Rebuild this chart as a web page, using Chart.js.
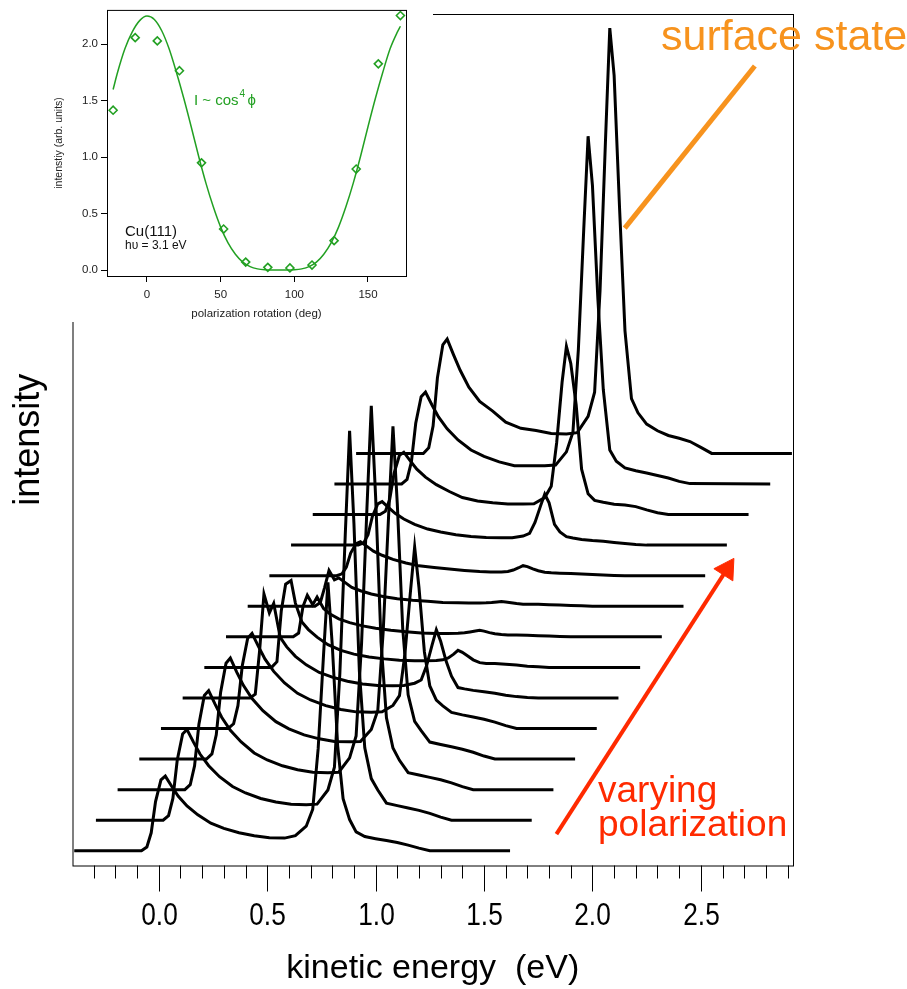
<!DOCTYPE html>
<html>
<head>
<meta charset="utf-8">
<title>Cu(111) surface state vs polarization</title>
<script src="https://cdn.jsdelivr.net/npm/chart.js"></script>
<style>
  body { margin:0; background:#fff; }
  #wrap { position:relative; width:907px; height:989px; }
  #main, #inset { position:absolute; left:0; top:0; }
  #inset { background:#fff; }
</style>
</head>
<body>
<div id="wrap">
  <canvas id="main" width="907" height="989"></canvas>
  <canvas id="inset" width="433" height="322"></canvas>
</div>
<script>
// relative kinetic energy of each spectrum (eV), before the waterfall shift
const relEnergy = [-0.39, -0.08, -0.055, -0.035, -0.015, 0.01, 0.03, 0.06, 0.09, 0.13,
  0.18, 0.24, 0.3, 0.37, 0.44, 0.51, 0.58, 0.63, 0.68, 0.71,
  0.735, 0.76, 0.78, 0.80, 0.825, 0.85, 0.88, 0.91, 0.95, 1.0,
  1.05, 1.1, 1.15, 1.2, 1.25, 1.62];

// intensity above each spectrum's own baseline (arb. units), bottom spectrum first
const s0 = [0, 0, 0.02, 0.095, 0.26, 0.375, 0.395, 0.34, 0.288, 0.237, 0.19, 0.146, 0.118, 0.095, 0.079, 0.069, 0.067, 0.08, 0.13, 0.22, 0.54, 1.04, 1.42, 1.09, 0.555, 0.276, 0.165, 0.1, 0.075, 0.064, 0.054, 0.044, 0.03, 0.014, 0, 0];
const s1 = [0, 0, 0.024, 0.115, 0.317, 0.456, 0.48, 0.413, 0.35, 0.288, 0.23, 0.178, 0.144, 0.115, 0.096, 0.084, 0.082, 0.085, 0.16, 0.28, 0.775, 1.51, 2.06, 1.57, 0.79, 0.383, 0.22, 0.16, 0.09, 0.077, 0.065, 0.052, 0.036, 0.016, 0, 0];
const s2 = [0, 0, 0.026, 0.126, 0.346, 0.498, 0.524, 0.451, 0.383, 0.314, 0.252, 0.194, 0.157, 0.126, 0.105, 0.092, 0.089, 0.092, 0.168, 0.284, 0.77, 1.49, 2.03, 1.55, 0.78, 0.38, 0.22, 0.155, 0.09, 0.077, 0.065, 0.052, 0.036, 0.016, 0, 0];
const s3 = [0, 0, 0.027, 0.128, 0.352, 0.507, 0.534, 0.459, 0.39, 0.32, 0.256, 0.198, 0.16, 0.128, 0.107, 0.093, 0.091, 0.093, 0.157, 0.257, 0.675, 1.29, 1.76, 1.35, 0.69, 0.34, 0.2, 0.15, 0.09, 0.077, 0.065, 0.052, 0.036, 0.016, 0, 0];
const s4 = [0, 0, 0.025, 0.121, 0.332, 0.478, 0.503, 0.433, 0.367, 0.302, 0.241, 0.186, 0.151, 0.121, 0.101, 0.088, 0.086, 0.088, 0.122, 0.174, 0.393, 0.716, 0.96, 0.746, 0.405, 0.225, 0.15, 0.12, 0.085, 0.072, 0.061, 0.049, 0.034, 0.015, 0, 0];
const s5 = [0, 0, 0.02, 0.25, 0.55, 0.45, 0.5, 0.32, 0.27, 0.22, 0.175, 0.135, 0.11, 0.088, 0.074, 0.066, 0.064, 0.066, 0.078, 0.095, 0.17, 0.278, 0.36, 0.3, 0.195, 0.115, 0.055, 0.048, 0.04, 0.033, 0.025, 0.014, 0.007, 0.002, 0, 0];
const s6 = [0, 0, 0.03, 0.3, 0.44, 0.46, 0.34, 0.24, 0.2, 0.16, 0.12, 0.09, 0.07, 0.055, 0.045, 0.038, 0.035, 0.035, 0.036, 0.04, 0.05, 0.07, 0.09, 0.08, 0.06, 0.04, 0.025, 0.02, 0.02, 0.016, 0.012, 0.006, 0.003, 0, 0, 0];
const s7 = [0, 0, 0.02, 0.16, 0.22, 0.17, 0.21, 0.15, 0.12, 0.095, 0.075, 0.058, 0.045, 0.035, 0.027, 0.02, 0.018, 0.018, 0.019, 0.021, 0.026, 0.031, 0.035, 0.03, 0.022, 0.016, 0.012, 0.01, 0.01, 0.008, 0.006, 0.004, 0.002, 0, 0, 0];
const s8 = [0, 0, 0.02, 0.1, 0.19, 0.14, 0.15, 0.125, 0.1, 0.082, 0.065, 0.05, 0.04, 0.032, 0.026, 0.02, 0.018, 0.017, 0.017, 0.018, 0.02, 0.023, 0.025, 0.022, 0.018, 0.014, 0.011, 0.01, 0.01, 0.008, 0.006, 0.004, 0.002, 0, 0, 0];
const s9 = [0, 0, 0.01, 0.045, 0.12, 0.17, 0.18, 0.155, 0.13, 0.108, 0.086, 0.067, 0.052, 0.043, 0.035, 0.028, 0.022, 0.02, 0.02, 0.022, 0.03, 0.042, 0.053, 0.048, 0.036, 0.026, 0.018, 0.015, 0.013, 0.011, 0.009, 0.006, 0.003, 0.001, 0, 0];
const s10 = [0, 0, 0.012, 0.055, 0.152, 0.218, 0.23, 0.198, 0.168, 0.138, 0.11, 0.085, 0.069, 0.055, 0.046, 0.04, 0.039, 0.039, 0.048, 0.062, 0.12, 0.205, 0.27, 0.224, 0.11, 0.07, 0.045, 0.038, 0.03, 0.024, 0.02, 0.014, 0.008, 0.003, 0, 0];
const s11 = [0, 0, 0.017, 0.08, 0.218, 0.314, 0.33, 0.284, 0.24, 0.198, 0.158, 0.122, 0.09, 0.072, 0.062, 0.056, 0.056, 0.057, 0.09, 0.15, 0.38, 0.7, 0.89, 0.8, 0.58, 0.24, 0.11, 0.075, 0.065, 0.055, 0.05, 0.042, 0.025, 0.01, 0, 0];
const s12 = [0, 0, 0.024, 0.117, 0.321, 0.462, 0.486, 0.418, 0.355, 0.292, 0.233, 0.18, 0.146, 0.117, 0.097, 0.096, 0.096, 0.1, 0.17, 0.274, 0.71, 1.35, 1.84, 1.58, 0.98, 0.5, 0.18, 0.12, 0.085, 0.07, 0.058, 0.045, 0.032, 0.014, 0.002, 0];
const s13 = [0, 0, 0.03, 0.145, 0.4, 0.575, 0.605, 0.52, 0.44, 0.35, 0.275, 0.224, 0.165, 0.133, 0.121, 0.106, 0.103, 0.11, 0.196, 0.324, 0.86, 1.65, 2.25, 2.0, 1.3, 0.65, 0.29, 0.215, 0.155, 0.12, 0.095, 0.08, 0.063, 0.032, 0, 0];
const spectra = [s0, s1, s2, s3, s4, s5, s6, s7, s8, s9, s10, s11, s12, s13];

// waterfall shift between neighbouring spectra
const xStep = 0.1;     // eV
const yStep = 0.1617;  // arb. units

// inset: surface state intensity vs polarization rotation
const rotationDeg = [-23, -8, 7, 22, 37, 52, 67, 82, 97, 112, 127, 142, 157, 172];
const ssIntensity = [1.416, 2.059, 2.03, 1.766, 0.95, 0.363, 0.07, 0.024, 0.018, 0.044, 0.26, 0.895, 1.827, 2.255];
const fitDeg = [-23, -20, -15, -10, -5, 0, 5, 10, 15, 20, 25, 30, 35, 40, 45, 50, 55, 60, 65, 70, 75, 80, 85, 90,
  95, 100, 105, 110, 115, 120, 125, 130, 135, 140, 145, 150, 155, 160, 165, 170, 172];
const fitValue = [1.60, 1.75, 1.96, 2.11, 2.21, 2.25, 2.22, 2.12, 1.96, 1.75, 1.52, 1.27, 1.01, 0.77, 0.56, 0.38, 0.24, 0.14, 0.07, 0.03, 0.01, 0.002, 0, 0,
  0, 0.002, 0.01, 0.03, 0.07, 0.14, 0.24, 0.38, 0.56, 0.77, 1.01, 1.27, 1.52, 1.75, 1.96, 2.11, 2.16];

// annotation marks (data coordinates of the main plot)
const surfaceLineX = [2.149, 2.749];
const surfaceLineY = [3.294, 4.152];
const arrowX = [1.834, 2.62];
const arrowY = [0.088, 1.489];

const sans = "'Liberation Sans', Arial, sans-serif";

const datasets = spectra.map((s, i) => ({
  data: relEnergy.map((e, k) => ({ x: e + i * xStep, y: s[k] + i * yStep })),
  borderColor: '#000', borderWidth: 3, pointRadius: 0, tension: 0, fill: false
}));
datasets.push({
  data: surfaceLineX.map((x, k) => ({ x, y: surfaceLineY[k] })),
  borderColor: '#f7931e', borderWidth: 5, pointRadius: 0, borderCapStyle: 'butt'
});
datasets.push({
  data: arrowX.map((x, k) => ({ x, y: arrowY[k] })),
  borderColor: '#ff2a00', borderWidth: 4, borderCapStyle: 'butt',
  pointRadius: [0, 13], pointStyle: 'triangle', pointRotation: 32.7,
  pointBackgroundColor: '#ff2a00', pointBorderColor: '#ff2a00', pointBorderWidth: 1
});

const isMajor = v => Math.abs(v * 2 - Math.round(v * 2)) < 1e-6;

const mainDecor = {
  id: 'mainDecor',
  afterDraw(chart) {
    const { ctx, chartArea: a, scales: { x } } = chart;
    ctx.save();
    ctx.strokeStyle = '#000';
    ctx.lineWidth = 1;
    ctx.strokeRect(a.left + 0.5, a.top + 0.5, a.right - a.left, a.bottom - a.top);
    ctx.fillStyle = '#000';
    ctx.font = "32px " + sans;
    ctx.textAlign = 'center';
    ctx.textBaseline = 'alphabetic';
    x.ticks.forEach(t => {
      const px = Math.round(x.getPixelForValue(t.value)) + 0.5;
      const major = isMajor(t.value);
      ctx.beginPath();
      ctx.moveTo(px, a.bottom);
      ctx.lineTo(px, a.bottom + (major ? 26 : 13));
      ctx.stroke();
      if (major) {
        // narrow face like the original tick labels
        ctx.save();
        ctx.translate(px, 925);
        ctx.scale(0.82, 1);
        ctx.fillText(t.value.toFixed(1), 0, 0);
        ctx.restore();
      }
    });
    ctx.textAlign = 'left';
    ctx.fillStyle = '#f7931e';
    ctx.font = "43px " + sans;
    ctx.fillText('surface state', 661, 50);
    ctx.fillStyle = '#ff2a00';
    ctx.font = "37px " + sans;
    ctx.fillText('varying', 598, 802);
    ctx.fillText('polarization', 598, 836);
    ctx.restore();
  }
};

new Chart(document.getElementById('main'), {
  type: 'line',
  data: { datasets },
  options: {
    responsive: false, animation: false,
    layout: { padding: { left: 0, top: 14, right: 114, bottom: 0 } },
    plugins: { legend: { display: false }, tooltip: { enabled: false } },
    scales: {
      x: {
        type: 'linear', min: -0.398, max: 2.925,
        grid: { display: false }, border: { display: false },
        ticks: { display: false, stepSize: 0.1, autoSkip: false, includeBounds: false },
        title: { display: true, text: 'kinetic energy  (eV)', color: '#000',
                 font: { family: sans, size: 34 }, padding: { top: 0, bottom: 0 } },
        afterFit: s => { s.height = 989 - 865.5; }
      },
      y: {
        type: 'linear', min: -0.078, max: 4.427,
        grid: { display: false }, border: { display: false },
        ticks: { display: false },
        title: { display: true, text: 'intensity', color: '#000',
                 font: { family: sans, size: 36 }, padding: { top: 7, bottom: 0 } },
        afterFit: s => { s.width = 72.5; }
      }
    }
  },
  plugins: [mainDecor]
});

const green = '#22a022';
const insetDecor = {
  id: 'insetDecor',
  beforeDraw(chart) {
    const { ctx } = chart;
    ctx.save();
    ctx.fillStyle = '#fff';
    ctx.fillRect(0, 0, chart.width, chart.height);
    ctx.restore();
  },
  afterDraw(chart) {
    const { ctx, chartArea: a } = chart;
    ctx.save();
    ctx.strokeStyle = '#000';
    ctx.lineWidth = 1;
    ctx.strokeRect(a.left + 0.5, a.top + 0.5, a.right - a.left, a.bottom - a.top);
    ctx.textAlign = 'left';
    ctx.textBaseline = 'alphabetic';
    ctx.fillStyle = green;
    ctx.font = "15px " + sans;
    ctx.fillText('I ~ cos', 194, 105);
    const w = ctx.measureText('I ~ cos').width;
    ctx.font = "10px " + sans;
    ctx.fillText('4', 194 + w + 1, 97);
    ctx.font = "15px " + sans;
    ctx.fillText('\u03d5', 194 + w + 9, 105);
    ctx.fillStyle = '#111';
    ctx.font = "15px " + sans;
    ctx.fillText('Cu(111)', 125, 236);
    ctx.font = "12px " + sans;
    ctx.fillText('h\u03c5 = 3.1 eV', 125, 249);
    ctx.restore();
  }
};

new Chart(document.getElementById('inset'), {
  type: 'line',
  data: {
    datasets: [
      { data: fitDeg.map((x, k) => ({ x, y: fitValue[k] })), borderColor: green, borderWidth: 1.5,
        pointRadius: 0, cubicInterpolationMode: 'monotone' },
      { data: rotationDeg.map((x, k) => ({ x, y: ssIntensity[k] })), showLine: false,
        pointStyle: 'rectRot', pointRadius: 4, pointBorderWidth: 1.6,
        pointBorderColor: green, pointBackgroundColor: 'rgba(255,255,255,0)' }
    ]
  },
  options: {
    responsive: false, animation: false,
    layout: { padding: { left: 48, top: 8, right: 27, bottom: 0 } },
    plugins: { legend: { display: false }, tooltip: { enabled: false } },
    scales: {
      x: {
        type: 'linear', min: -27.15, max: 175.8,
        grid: { drawOnChartArea: false, tickLength: 6, color: '#000' },
        border: { display: false },
        ticks: { stepSize: 50, includeBounds: false, padding: 6, maxRotation: 0,
                 color: '#222', font: { family: sans, size: 11.5 } },
        title: { display: true, text: 'polarization rotation (deg)', color: '#222',
                 font: { family: sans, size: 11.5 }, padding: { top: 0, bottom: 1 } },
        afterFit: s => { s.height = 322 - 276; }
      },
      y: {
        type: 'linear', min: -0.053, max: 2.305,
        grid: { drawOnChartArea: false, tickLength: 6, color: '#000' },
        border: { display: false },
        ticks: { stepSize: 0.5, includeBounds: false, padding: 3,
                 color: '#222', font: { family: sans, size: 11.5 },
                 callback: v => v.toFixed(1) },
        title: { display: true, text: 'intenstiy (arb. units)', color: '#222',
                 font: { family: sans, size: 10.5 }, padding: { top: 5, bottom: 0 } },
        afterFit: s => { s.width = 107 - 48; }
      }
    }
  },
  plugins: [insetDecor]
});
</script>
</body>
</html>
